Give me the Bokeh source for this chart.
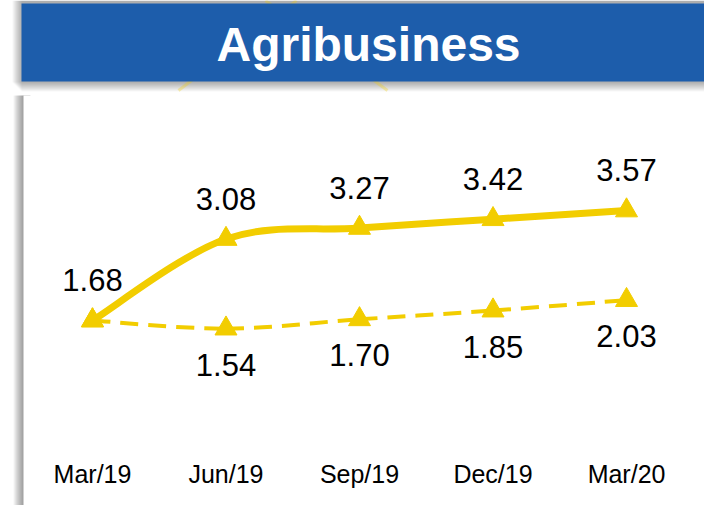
import numpy as np
from bokeh.plotting import figure
from bokeh.models import Range1d, FixedTicker, BoxAnnotation, Label, PolyAnnotation, LinearAxis
from bokeh.core.properties import value
from bokeh.embed import file_html
from bokeh.resources import INLINE

# ---- data ----
quarters = ["Mar/19", "Jun/19", "Sep/19", "Dec/19", "Mar/20"]
current = [1.68, 3.08, 3.27, 3.42, 3.57]
previous = [1.68, 1.54, 1.70, 1.85, 2.03]
title_text = "Agribusiness"

W, H = 704, 505
YEL = "#F2CD00"
BLUE = "#1D5DAB"
FONT = "Liberation Sans"

xpos = list(range(len(quarters)))

p = figure(width=W, height=H, output_backend="svg", toolbar_location=None,
           x_range=Range1d(-0.689, 4.584), y_range=Range1d(-1.499, 7.178),
           x_axis_location=None,
           min_border_left=0, min_border_right=0, min_border_top=0,
           min_border_bottom=0)
p.outline_line_color = None
p.background_fill_color = "white"
p.border_fill_color = "white"
p.grid.visible = False
p.yaxis.visible = False

ax = LinearAxis(fixed_location=-0.468)
p.add_layout(ax, "below")
ax.ticker = FixedTicker(ticks=xpos)
ax.major_label_overrides = {i: q for i, q in enumerate(quarters)}
ax.axis_line_color = None
ax.major_tick_line_color = None
ax.minor_tick_line_color = None
ax.major_label_text_font = FONT
ax.major_label_text_font_size = "25px"
ax.major_label_text_color = "black"
ax.major_label_standoff = 9


def box(x0, y0, x1, y1, color, alpha=1.0):
    b = BoxAnnotation(left=x0, right=x1, top=H - y0, bottom=H - y1,
                      left_units="screen", right_units="screen",
                      top_units="screen", bottom_units="screen",
                      fill_color=color, fill_alpha=alpha, line_color=None,
                      level="underlay")
    p.add_layout(b)


def seg(xa, ya, xb, yb, color, width):
    pa = PolyAnnotation(xs=[xa, xb], ys=[H - ya, H - yb],
                        xs_units="screen", ys_units="screen",
                        fill_alpha=0, line_color=color, line_width=width,
                        level="underlay")
    p.add_layout(pa)


# banner shadow (below / left)
for k in range(10):
    box(12 + k, 0, 704, 82 + k, "black", 0.035)
# card left shadow
for k in range(10):
    box(13 + k, 95, 30, 505, "black", 0.045)
# card
box(23, 95, 704, 505, "white")
# decorative yellow strokes behind banner
seg(178, 90, 296, 0, YEL, 3)
seg(387, 90, 265, 0, YEL, 3)
# banner
box(21, 3, 704, 81, BLUE)
p.add_layout(Label(x=368, y=H - 44, x_units="screen", y_units="screen",
                   text=title_text, text_font=FONT, text_font_style="bold",
                   text_font_size="48px", text_color="white",
                   text_align="center", text_baseline="alphabetic"))


def cr_bezier(xs, ys):
    pts = np.column_stack([xs, ys]).astype(float)
    n = len(pts)
    out = {k: [] for k in ["x0", "y0", "x1", "y1", "cx0", "cy0", "cx1", "cy1"]}
    for i in range(n - 1):
        p0 = pts[i - 1] if i > 0 else pts[i]
        p1 = pts[i]
        p2 = pts[i + 1]
        p3 = pts[i + 2] if i + 2 < n else pts[i + 1]
        c0 = p1 + (p2 - p0) / 6.0
        c1 = p2 - (p3 - p1) / 6.0
        out["x0"].append(p1[0]); out["y0"].append(p1[1])
        out["x1"].append(p2[0]); out["y1"].append(p2[1])
        out["cx0"].append(c0[0]); out["cy0"].append(c0[1])
        out["cx1"].append(c1[0]); out["cy1"].append(c1[1])
    return out


bz_prev = cr_bezier(xpos, previous)
p.bezier(**bz_prev, line_color=YEL, line_width=4, line_dash="18 10")
bz_cur = cr_bezier(xpos, current)
p.bezier(**bz_cur, line_color=YEL, line_width=7, line_cap="round")

p.scatter(xpos, previous, marker="triangle", size=22, fill_color=YEL, line_color=YEL)
p.scatter(xpos, current, marker="triangle", size=22, fill_color=YEL, line_color=YEL)

p.text(x=xpos, y=current, text=[f"{v:.2f}" for v in current],
       text_font=value(FONT), text_font_size="31px", text_color="black",
       text_align="center", text_baseline="alphabetic", y_offset=-40)
p.text(x=xpos[1:], y=previous[1:], text=[f"{v:.2f}" for v in previous[1:]],
       text_font=value(FONT), text_font_size="31px", text_color="black",
       text_align="center", text_baseline="alphabetic", y_offset=36)

open("out.html", "w").write(file_html(p, INLINE))
